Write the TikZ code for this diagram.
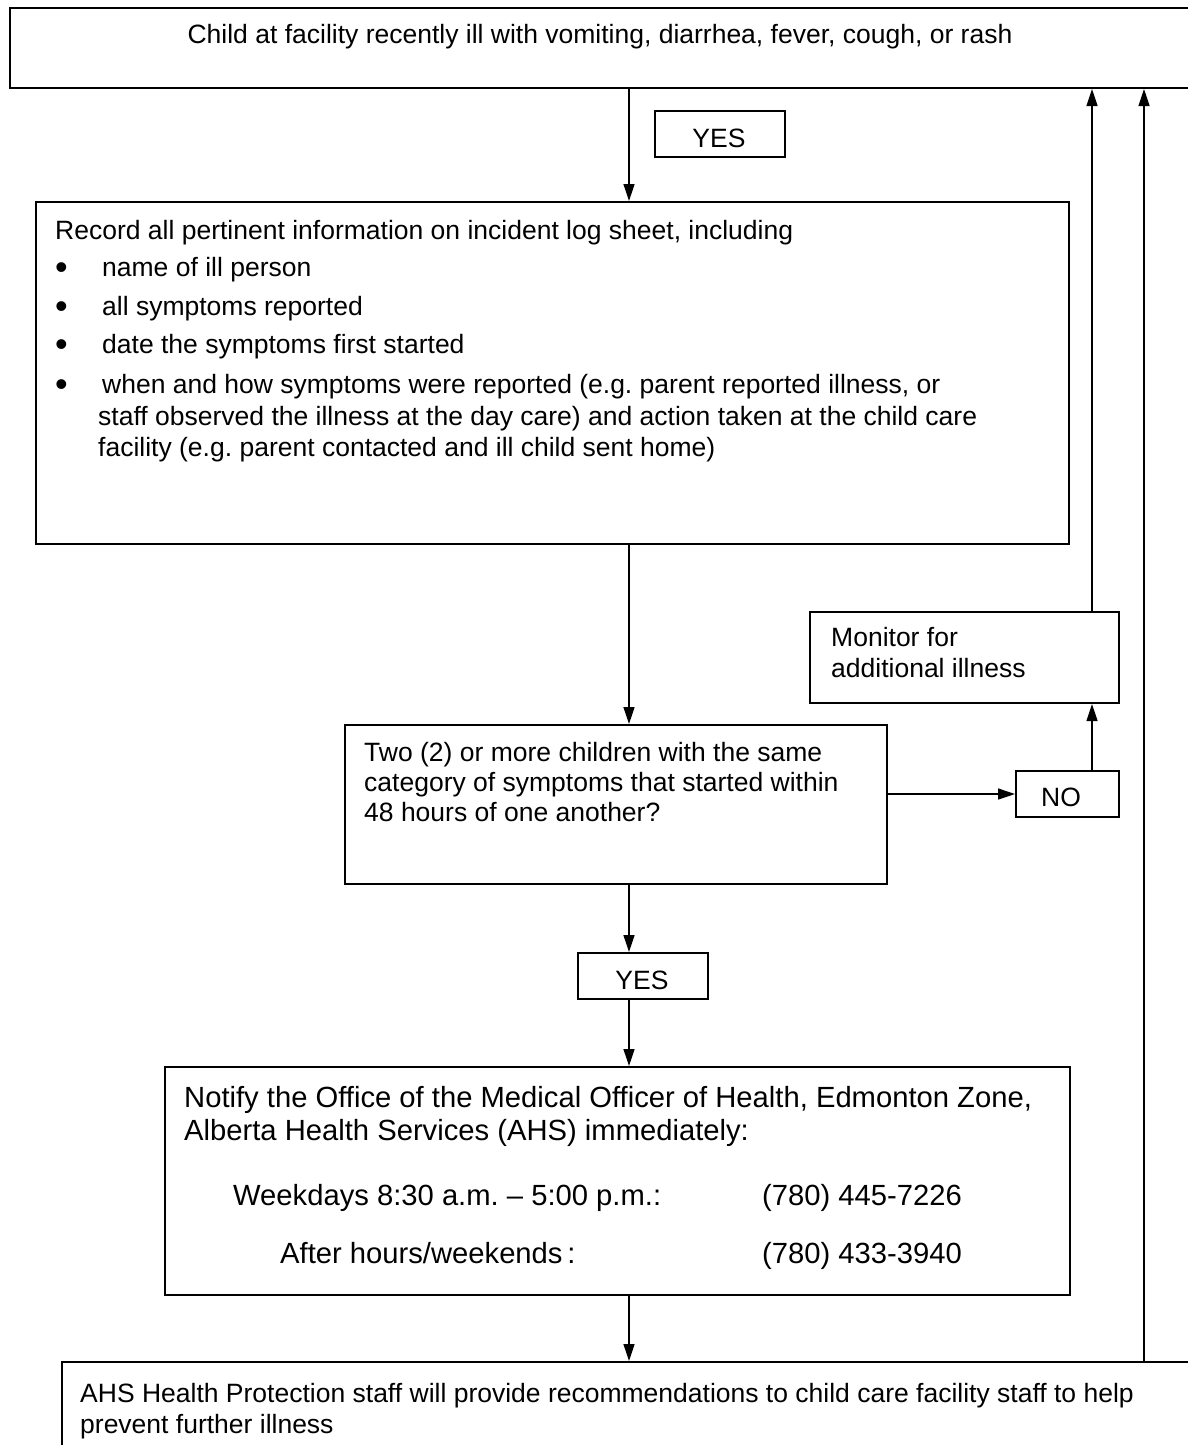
\documentclass[tikz,border=0pt]{standalone}
\usepackage{fontspec}
\setmainfont{Liberation Sans}
\usetikzlibrary{arrows.meta}
\frenchspacing
\begin{document}
\begin{tikzpicture}[x=1pt,y=-1pt,
  box/.style={draw=black, line width=2pt, inner sep=0pt, anchor=north west},
  conn/.style={draw=black, line width=1.3pt, -{Triangle[length=17pt,width=11pt]}},
  txt/.style={inner sep=0pt, anchor=base west, font=\fontsize{26.5}{30}\selectfont},
  btxt/.style={inner sep=0pt, anchor=base west, font=\fontsize{29.2}{33}\selectfont},
  ctxt/.style={txt, anchor=base},
  bul/.style={txt, font=\fontsize{36}{36}\selectfont},
]
\useasboundingbox (0,0) rectangle (1188,1445);
% boxes
\node[box, minimum width=1200pt, minimum height=80pt] (top) at (9,7) {};
\node[box, minimum width=130pt, minimum height=46pt] (yes1) at (654,110) {};
\node[box, minimum width=1033pt, minimum height=342pt] (rec) at (35,201) {};
\node[box, minimum width=309pt, minimum height=91pt] (mon) at (809,611) {};
\node[box, minimum width=542pt, minimum height=159pt] (q) at (344,724) {};
\node[box, minimum width=103pt, minimum height=46pt] (no) at (1015,770) {};
\node[box, minimum width=130pt, minimum height=46pt] (yes2) at (577,952) {};
\node[box, minimum width=905pt, minimum height=228pt] (notif) at (164,1066) {};
\node[box, minimum width=1150pt, minimum height=120pt] (fin) at (61,1361) {};
% helper coordinates
\coordinate (xa) at (629,0);
\coordinate (xb) at (1092,0);
\coordinate (xc) at (1144,0);
% texts
\node[ctxt] (t1) at (600,44) {Child at facility recently ill with vomiting, diarrhea, fever, cough, or rash};
\node[ctxt] (ty1) at (719,147) {YES};
\node[txt] (r0) at (55,239) {Record all pertinent information on incident log sheet, including};
\node[bul] (bu1) at (55,279) {•};
\node[txt] (r1) at (102,276) {name of ill person};
\node[bul] (bu2) at (55,318) {•};
\node[txt] (r2) at (102,315) {all symptoms reported};
\node[bul] (bu3) at (55,356) {•};
\node[txt] (r3) at (102,353) {date the symptoms first started};
\node[bul] (bu4) at (55,396) {•};
\node[txt] (r4) at (102,393) {when and how symptoms were reported (e.g. parent reported illness, or};
\node[txt] (r5) at (98,425) {staff observed the illness at the day care) and action taken at the child care};
\node[txt] (r6) at (98,456) {facility (e.g. parent contacted and ill child sent home)};
\node[txt] (m1) at (831,646) {Monitor for};
\node[txt] (m2) at (831,677) {additional illness};
\node[txt] (q1) at (364,761) {Two (2) or more children with the same};
\node[txt] (q2) at (364,791) {category of symptoms that started within};
\node[txt] (q3) at (364,821) {48 hours of one another?};
\node[ctxt] (tno) at (1061,806) {NO};
\node[ctxt] (ty2) at (642,989) {YES};
\node[btxt] (n1) at (184,1107) {Notify the Office of the Medical Officer of Health, Edmonton Zone,};
\node[btxt] (n2) at (184,1140) {Alberta Health Services (AHS) immediately:};
\node[btxt] (n3) at (233,1205) {Weekdays 8:30 a.m. – 5:00 p.m.:};
\node[btxt] (n4) at (762,1205) {(780) 445-7226};
\node[btxt] (n5) at (280,1263) {After hours/weekends\,:};
\node[btxt] (n6) at (762,1263) {(780) 433-3940};
\node[txt] (f1) at (80,1402) {AHS Health Protection staff will provide recommendations to child care facility staff to help};
\node[txt] (f2) at (80,1433) {prevent further illness};
% connectors
\draw[conn] (top.south -| xa) -- (rec.north -| xa);
\draw[conn] (rec.south -| xa) -- (q.north -| xa);
\draw[conn] (q.east |- no.west) -- (no.west);
\draw[conn] (no.north -| xb) -- (mon.south -| xb);
\draw[conn] (mon.north -| xb) -- (top.south -| xb);
\draw[conn] (q.south -| xa) -- (yes2.north -| xa);
\draw[conn] (yes2.south -| xa) -- (notif.north -| xa);
\draw[conn] (notif.south -| xa) -- (fin.north -| xa);
\draw[conn] (fin.north -| xc) -- (top.south -| xc);
\end{tikzpicture}
\end{document}
